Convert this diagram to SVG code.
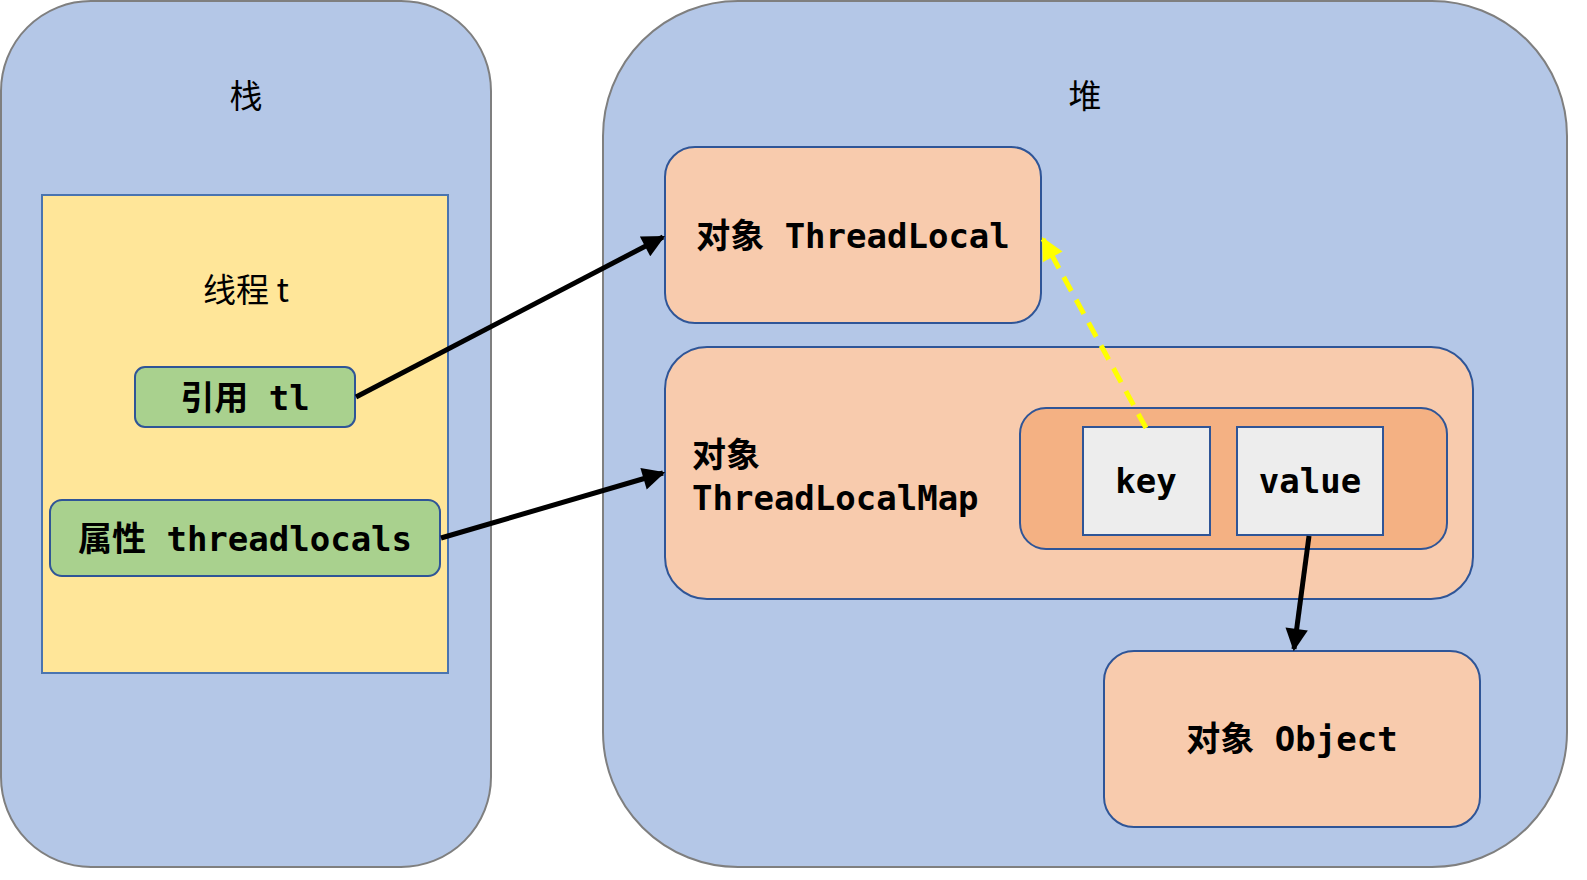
<svg xmlns="http://www.w3.org/2000/svg" width="1587" height="880" viewBox="0 0 1587 880">
<defs>
<style>
.cont{fill:#b4c7e7;stroke:#7f7f7f;stroke-width:2}
.thread{fill:#ffe699;stroke:#4a74b0;stroke-width:2}
.green{fill:#a9d18e;stroke:#2f5597;stroke-width:2}
.obj{fill:#f8cbad;stroke:#2f5597;stroke-width:2}
.entry{fill:#f4b183;stroke:#2f5597;stroke-width:2}
.cell{fill:#ededed;stroke:#2f5597;stroke-width:2}
.t{font-family:"Noto Sans CJK SC","DejaVu Sans",sans-serif;font-size:33px;fill:#000}
.m{font-family:"DejaVu Sans Mono","Noto Sans CJK SC",monospace;font-weight:bold;font-size:34px;fill:#000}
.c{text-anchor:middle}
.arr{stroke:#000;stroke-width:5;fill:none}
.dash{stroke:#ffff00;stroke-width:5;fill:none;stroke-dasharray:16,10}
</style>
<marker id="ah" viewBox="0 0 10 10" refX="9" refY="5" markerWidth="5" markerHeight="4.5" orient="auto" markerUnits="strokeWidth">
<path d="M0,0 L10,5 L0,10 z" fill="#000"/>
</marker>
<marker id="ahy" viewBox="0 0 10 10" refX="9" refY="5" markerWidth="5" markerHeight="4.5" orient="auto" markerUnits="strokeWidth">
<path d="M0,0 L10,5 L0,10 z" fill="#ffff00"/>
</marker>
</defs>
<rect width="1587" height="880" fill="#ffffff"/>
<g id="stack">
<rect class="cont" x="1" y="1" width="490" height="866" rx="90" ry="90"/>
<text class="t c" x="246" y="108">栈</text>
</g>
<g id="heap">
<rect class="cont" x="603" y="1" width="964" height="866" rx="135" ry="135"/>
<text class="t c" x="1085" y="108">堆</text>
</g>
<g id="thread">
<rect class="thread" x="42" y="195" width="406" height="478"/>
<text class="t c" x="246" y="302">线程 t</text>
</g>
<g id="ref-tl">
<rect class="green" x="135" y="367" width="220" height="60" rx="10" ry="10"/>
<text class="m c" x="245" y="410">引用 tl</text>
</g>
<g id="attr-threadlocals">
<rect class="green" x="50" y="500" width="390" height="76" rx="12" ry="12"/>
<text class="m c" x="245" y="551">属性 threadlocals</text>
</g>
<g id="obj-threadlocal">
<rect class="obj" x="665" y="147" width="376" height="176" rx="30" ry="30"/>
<text class="m c" x="853" y="248">对象 ThreadLocal</text>
</g>
<g id="obj-threadlocalmap">
<rect class="obj" x="665" y="347" width="808" height="252" rx="42" ry="42"/>
<text class="m" x="692" y="467">对象</text>
<text class="m" x="692" y="510">ThreadLocalMap</text>
</g>
<g id="entry">
<rect class="entry" x="1020" y="408" width="427" height="141" rx="26" ry="26"/>
</g>
<g id="key">
<rect class="cell" x="1083" y="427" width="127" height="108"/>
<text class="m c" x="1146" y="493">key</text>
</g>
<g id="value">
<rect class="cell" x="1237" y="427" width="146" height="108"/>
<text class="m c" x="1310" y="493">value</text>
</g>
<g id="obj-object">
<rect class="obj" x="1104" y="651" width="376" height="176" rx="30" ry="30"/>
<text class="m c" x="1292" y="751">对象 Object</text>
</g>
<g id="connectors">
<line class="arr" x1="356" y1="397" x2="663" y2="237" marker-end="url(#ah)"/>
<line class="arr" x1="441" y1="538" x2="663" y2="473" marker-end="url(#ah)"/>
<line class="arr" x1="1309" y1="536" x2="1294" y2="649" marker-end="url(#ah)"/>
<line class="dash" x1="1146" y1="428" x2="1043" y2="239" marker-end="url(#ahy)"/>
</g>
</svg>
